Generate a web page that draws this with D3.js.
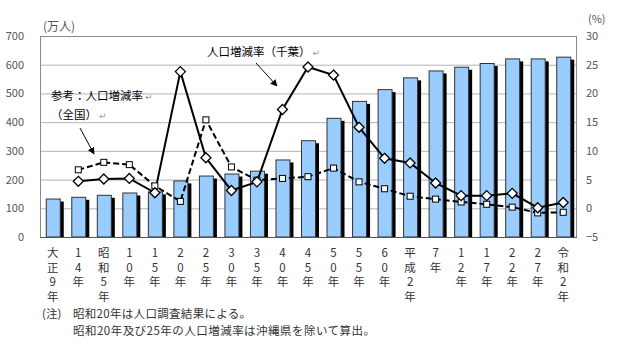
<!DOCTYPE html>
<html><head><meta charset="utf-8">
<script src="https://cdn.jsdelivr.net/npm/d3@7"></script>
<style>
body{margin:0;background:#fff;}
svg{display:block;font-family:"Noto Sans CJK JP","DejaVu Sans",sans-serif;}
</style></head>
<body>
<svg id="c" width="621" height="356"></svg>
<script>
const categories = ["大正9年","14年","昭和5年","10年","15年","20年","25年","30年","35年","40年","45年","50年","55年","60年","平成2年","7年","12年","17年","22年","27年","令和2年"];
const population = [134,140,147,155,159,197,214,221,231,270,337,415,474,515,556,580,593,606,622,622,628];
const rateChiba = [null,4.7,5.1,5.2,2.7,23.8,8.8,3.1,4.6,17.2,24.6,23.2,14.1,8.7,7.9,4.4,2.2,2.2,2.6,0.1,1.0];
const rateJapan = [null,6.7,8.0,7.6,3.9,1.2,15.4,7.2,4.9,5.2,5.5,7.0,4.6,3.4,2.1,1.6,1.1,0.7,0.2,-0.8,-0.7];
const leftTicks = [0,100,200,300,400,500,600,700];
const rightTicks = [-5,0,5,10,15,20,25,30];
const noteHead = "(注)";
const noteLines = ["昭和20年は人口調査結果による。","昭和20年及び25年の人口増減率は沖縄県を除いて算出。"];

const svg = d3.select("#c");
const L=40,R=576,T=36,B=237;
const x = d3.scaleBand().domain(categories).range([L,R]).paddingInner(0).paddingOuter(0);
const y = d3.scaleLinear().domain([0,700]).range([B,T]);
const y2 = d3.scaleLinear().domain([-5,30]).range([B,T]);

// gridlines
svg.append("g").selectAll("line").data(leftTicks.slice(1,-1)).join("line")
  .attr("x1",L).attr("x2",R).attr("y1",d=>y(d)+0.5).attr("y2",d=>y(d)+0.5)
  .attr("stroke","#b4b4b4").attr("stroke-width",1);
// frame
svg.append("rect").attr("x",L+0.5).attr("y",T+0.5).attr("width",R-L).attr("height",B-T)
  .attr("fill","none").attr("stroke","#8a8a8a");

// axis labels
const ax = svg.append("g").attr("transform",`translate(${L},0)`)
  .call(d3.axisLeft(y).tickValues(leftTicks).tickSize(0).tickPadding(16));
ax.select(".domain").remove();
ax.selectAll("text").attr("font-size",11).attr("fill","#555").attr("font-family","'Noto Sans CJK JP',sans-serif");
const ax2 = svg.append("g").attr("transform",`translate(${R},0)`)
  .call(d3.axisRight(y2).tickValues(rightTicks).tickSize(0).tickPadding(10));
ax2.select(".domain").remove();
ax2.selectAll("text").attr("font-size",11).attr("fill","#555").attr("font-family","'Noto Sans CJK JP',sans-serif");

svg.append("text").attr("x",43).attr("y",31).attr("font-size",12).attr("fill","#555").text("(万人)");
svg.append("text").attr("x",588).attr("y",23).attr("font-size",11).attr("fill","#555").text("(%)");

// bars
const bw = 14;
const cx = d=>x(d)+x.bandwidth()/2;
const bars = svg.append("g");
bars.selectAll("rect.sh").data(categories).join("rect").attr("class","sh")
  .attr("x",(d,i)=>cx(d)-bw/2+4).attr("y",(d,i)=>y(population[i])+3)
  .attr("width",bw).attr("height",(d,i)=>B-y(population[i])-3).attr("fill","#000");
bars.selectAll("rect.b").data(categories).join("rect").attr("class","b")
  .attr("x",(d,i)=>cx(d)-bw/2+0.5).attr("y",(d,i)=>y(population[i])+0.5)
  .attr("width",bw).attr("height",(d,i)=>B-y(population[i])-0.5)
  .attr("fill","#99ccff").attr("stroke","#333").attr("stroke-width",1);

svg.append("line").attr("x1",L).attr("x2",R+1).attr("y1",B+0.5).attr("y2",B+0.5).attr("stroke","#555");

// lines
const line = d3.line().defined(d=>d[1]!==null).x(d=>cx(d[0])).y(d=>y2(d[1]));
const jp = categories.map((c,i)=>[c,rateJapan[i]]);
const cb = categories.map((c,i)=>[c,rateChiba[i]]);
svg.append("path").datum(jp).attr("d",line).attr("fill","none").attr("stroke","#000")
  .attr("stroke-width",2).attr("stroke-dasharray","6,3");
svg.append("path").datum(cb).attr("d",line).attr("fill","none").attr("stroke","#000").attr("stroke-width",2);

svg.append("g").selectAll("rect").data(jp.filter(d=>d[1]!==null)).join("rect")
  .attr("x",d=>cx(d[0])-3).attr("y",d=>y2(d[1])-3).attr("width",6).attr("height",6)
  .attr("fill","#fff").attr("stroke","#000").attr("stroke-width",1);
svg.append("g").selectAll("path").data(cb.filter(d=>d[1]!==null)).join("path")
  .attr("d",d=>{const X=cx(d[0]),Y=y2(d[1]),r=5;return `M${X},${Y-r}L${X+r},${Y}L${X},${Y+r}L${X-r},${Y}Z`;})
  .attr("fill","#fff").attr("stroke","#000").attr("stroke-width",1.3);

// x labels (vertical)
const xl = svg.append("g");
categories.forEach(c=>{
  Array.from(c).forEach((ch,k)=>{
    xl.append("text").attr("x",cx(c)).attr("y",257+k*14.6).attr("text-anchor","middle")
      .attr("font-size",11.5).attr("fill","#333").text(ch);
  });
});

// annotations
const defs = svg.append("defs");
defs.append("marker").attr("id","ah").attr("viewBox","0 0 10 10").attr("refX",9).attr("refY",5)
  .attr("markerWidth",7).attr("markerHeight",7).attr("orient","auto").attr("markerUnits","userSpaceOnUse")
  .append("path").attr("d","M0,0L10,5L0,10Z").attr("fill","#000");
function label(t,xx,yy){
  const tx = svg.append("text").attr("x",xx).attr("y",yy).attr("font-size",11.5).attr("fill","#000");
  tx.append("tspan").text(t);
  tx.append("tspan").attr("fill","#999").attr("font-size",9).attr("dx",2).text("↵");
}
label("人口増減率（千葉）",207,56);
label("参考：人口増減率",51,100);
label("（全国）",51,119);
svg.append("line").attr("x1",256).attr("y1",63).attr("x2",277).attr("y2",86).attr("stroke","#000").attr("stroke-width",1).attr("marker-end","url(#ah)");
svg.append("line").attr("x1",80).attr("y1",128).attr("x2",94).attr("y2",154).attr("stroke","#000").attr("stroke-width",1).attr("marker-end","url(#ah)");

// notes
svg.append("text").attr("x",42).attr("y",318).attr("font-size",11.5).attr("fill","#333").text(noteHead);
svg.append("text").attr("x",73).attr("y",318).attr("font-size",11.5).attr("fill","#333")
  .attr("textLength",178).attr("lengthAdjust","spacing").text(noteLines[0]);
svg.append("text").attr("x",73).attr("y",335).attr("font-size",11.5).attr("fill","#333")
  .attr("textLength",302).attr("lengthAdjust","spacing").text(noteLines[1]);
</script>
</body></html>
